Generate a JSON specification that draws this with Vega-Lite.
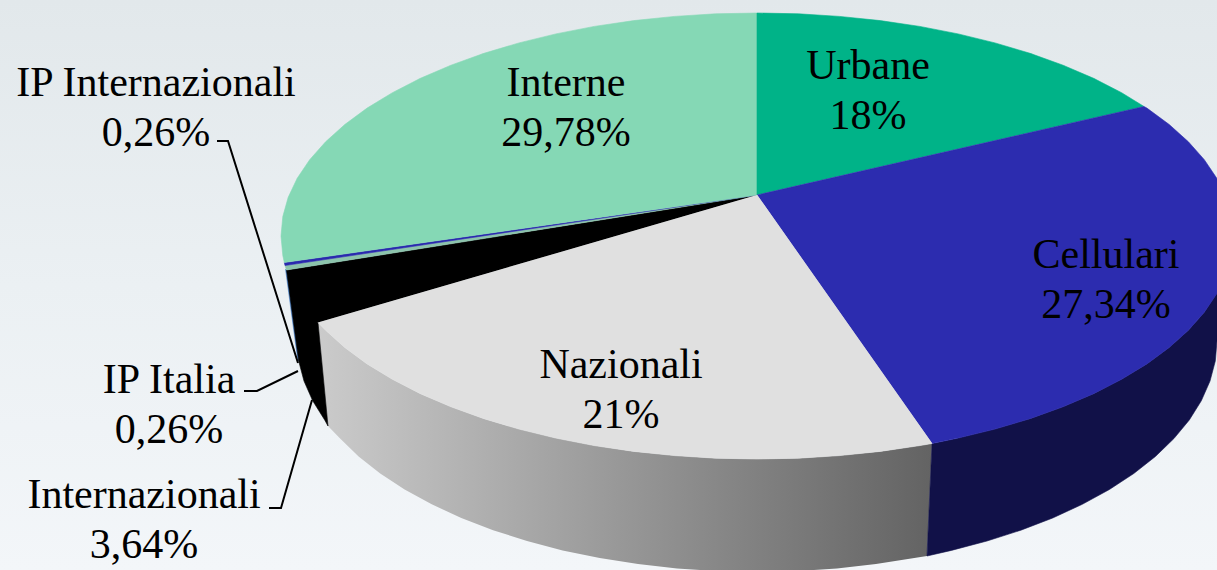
{"$schema":"https://vega.github.io/schema/vega-lite/v6.json","width":1217,"height":570,"autosize":{"type":"none"},"padding":0,"background":"#eaeff2","view":{"stroke":null,"fill":{"gradient":"linear","x1":0,"y1":0,"x2":0,"y2":1,"stops":[{"offset":0,"color":"#e2e8eb"},{"offset":0.5,"color":"#ebf0f3"},{"offset":1,"color":"#f3f6f9"}]}},
"datasets":{
"gradientSide":[
{"x":932,"y":443.5},{"x":919.8,"y":445.6},{"x":880.2,"y":451.4},{"x":839.6,"y":455.6},{"x":798.5,"y":458.2},{"x":757,"y":459},{"x":715.5,"y":458.2},{"x":674.4,"y":455.6},{"x":633.8,"y":451.4},{"x":594.2,"y":445.6},{"x":555.8,"y":438.1},{"x":519,"y":429.1},{"x":484,"y":418.7},{"x":451,"y":406.8},{"x":420.4,"y":393.7},{"x":392.4,"y":379.3},{"x":367.1,"y":363.9},{"x":344.8,"y":347.5},{"x":325.6,"y":330.2},{"x":318,"y":322.5},{"x":328,"y":426},{"x":340.1,"y":438.6},{"x":358.6,"y":456.5},{"x":380.2,"y":473.5},{"x":404.6,"y":489.5},{"x":431.7,"y":504.3},{"x":461.3,"y":518},{"x":493.1,"y":530.2},{"x":527,"y":541},{"x":562.6,"y":550.4},{"x":599.7,"y":558.1},{"x":638,"y":564.1},{"x":677.1,"y":568.5},{"x":716.9,"y":571.1},{"x":757,"y":572},{"x":797.1,"y":571.1},{"x":836.9,"y":568.5},{"x":876,"y":564.1},{"x":914.3,"y":558.1},{"x":927,"y":556}
],
"slices":[
{"part":"Cellulari side","x":932,"y":443.5},{"part":"Cellulari side","x":927,"y":556},{"part":"Cellulari side","x":951.4,"y":550.4},{"part":"Cellulari side","x":987,"y":541},{"part":"Cellulari side","x":1020.9,"y":530.2},{"part":"Cellulari side","x":1052.7,"y":518},{"part":"Cellulari side","x":1082.3,"y":504.3},{"part":"Cellulari side","x":1109.4,"y":489.5},{"part":"Cellulari side","x":1133.8,"y":473.5},{"part":"Cellulari side","x":1155.4,"y":456.5},{"part":"Cellulari side","x":1173.9,"y":438.6},{"part":"Cellulari side","x":1189.3,"y":420},{"part":"Cellulari side","x":1201.3,"y":400.8},{"part":"Cellulari side","x":1210,"y":381.1},{"part":"Cellulari side","x":1215.3,"y":361.1},{"part":"Cellulari side","x":1217,"y":341},{"part":"Cellulari side","x":1217,"y":293},{"part":"Cellulari side","x":1204.3,"y":312.3},{"part":"Cellulari side","x":1188.4,"y":330.2},{"part":"Cellulari side","x":1169.2,"y":347.5},{"part":"Cellulari side","x":1146.9,"y":363.9},{"part":"Cellulari side","x":1121.6,"y":379.3},{"part":"Cellulari side","x":1093.6,"y":393.7},{"part":"Cellulari side","x":1063,"y":406.8},{"part":"Cellulari side","x":1030,"y":418.7},{"part":"Cellulari side","x":995,"y":429.1},{"part":"Cellulari side","x":958.2,"y":438.1},
{"part":"IP edge","x":285.5,"y":269},{"part":"IP edge","x":297.5,"y":358},{"part":"IP edge","x":298.7,"y":361},{"part":"IP edge","x":287,"y":270},
{"part":"Internazionali","x":757,"y":195},{"part":"Internazionali","x":318,"y":322.5},{"part":"Internazionali","x":328,"y":426},{"part":"Internazionali","x":324.7,"y":420},{"part":"Internazionali","x":312.7,"y":400.8},{"part":"Internazionali","x":304,"y":381.1},{"part":"Internazionali","x":298.7,"y":361.1},{"part":"Internazionali","x":286.5,"y":270},
{"part":"IP Italia","x":757,"y":195},{"part":"IP Italia","x":286.5,"y":270},{"part":"IP Italia","x":285,"y":265.5},
{"part":"IP Internazionali","x":757,"y":195},{"part":"IP Internazionali","x":285,"y":265.5},{"part":"IP Internazionali","x":284.3,"y":262.5},
{"part":"Interne","x":757,"y":195},{"part":"Interne","x":284.3,"y":262.5},{"part":"Interne","x":282.8,"y":255.4},{"part":"Interne","x":281,"y":236},{"part":"Interne","x":282.8,"y":216.6},{"part":"Interne","x":288.2,"y":197.3},{"part":"Interne","x":297.2,"y":178.3},{"part":"Interne","x":309.7,"y":159.7},{"part":"Interne","x":325.6,"y":141.8},{"part":"Interne","x":344.8,"y":124.5},{"part":"Interne","x":367.1,"y":108.1},{"part":"Interne","x":392.4,"y":92.7},{"part":"Interne","x":420.4,"y":78.3},{"part":"Interne","x":451,"y":65.2},{"part":"Interne","x":484,"y":53.3},{"part":"Interne","x":519,"y":42.9},{"part":"Interne","x":555.8,"y":33.9},{"part":"Interne","x":594.2,"y":26.4},{"part":"Interne","x":633.8,"y":20.6},{"part":"Interne","x":674.4,"y":16.4},{"part":"Interne","x":715.5,"y":13.8},{"part":"Interne","x":757,"y":13},
{"part":"Urbane","x":757,"y":195},{"part":"Urbane","x":757,"y":13},{"part":"Urbane","x":798.5,"y":13.8},{"part":"Urbane","x":839.6,"y":16.4},{"part":"Urbane","x":880.2,"y":20.6},{"part":"Urbane","x":919.8,"y":26.4},{"part":"Urbane","x":958.2,"y":33.9},{"part":"Urbane","x":995,"y":42.9},{"part":"Urbane","x":1030,"y":53.3},{"part":"Urbane","x":1063,"y":65.2},{"part":"Urbane","x":1093.6,"y":78.3},{"part":"Urbane","x":1121.6,"y":92.7},{"part":"Urbane","x":1144,"y":106.5},
{"part":"Cellulari","x":757,"y":195},{"part":"Cellulari","x":1144,"y":106.5},{"part":"Cellulari","x":1146.9,"y":108.1},{"part":"Cellulari","x":1169.2,"y":124.5},{"part":"Cellulari","x":1188.4,"y":141.8},{"part":"Cellulari","x":1204.3,"y":159.7},{"part":"Cellulari","x":1216.8,"y":178.3},{"part":"Cellulari","x":1225.8,"y":197.3},{"part":"Cellulari","x":1231.2,"y":216.6},{"part":"Cellulari","x":1233,"y":236},{"part":"Cellulari","x":1231.2,"y":255.4},{"part":"Cellulari","x":1225.8,"y":274.7},{"part":"Cellulari","x":1216.8,"y":293.7},{"part":"Cellulari","x":1204.3,"y":312.3},{"part":"Cellulari","x":1188.4,"y":330.2},{"part":"Cellulari","x":1169.2,"y":347.5},{"part":"Cellulari","x":1146.9,"y":363.9},{"part":"Cellulari","x":1121.6,"y":379.3},{"part":"Cellulari","x":1093.6,"y":393.7},{"part":"Cellulari","x":1063,"y":406.8},{"part":"Cellulari","x":1030,"y":418.7},{"part":"Cellulari","x":995,"y":429.1},{"part":"Cellulari","x":958.2,"y":438.1},{"part":"Cellulari","x":932,"y":443.5},
{"part":"Nazionali","x":757,"y":195},{"part":"Nazionali","x":932,"y":443.5},{"part":"Nazionali","x":919.8,"y":445.6},{"part":"Nazionali","x":880.2,"y":451.4},{"part":"Nazionali","x":839.6,"y":455.6},{"part":"Nazionali","x":798.5,"y":458.2},{"part":"Nazionali","x":757,"y":459},{"part":"Nazionali","x":715.5,"y":458.2},{"part":"Nazionali","x":674.4,"y":455.6},{"part":"Nazionali","x":633.8,"y":451.4},{"part":"Nazionali","x":594.2,"y":445.6},{"part":"Nazionali","x":555.8,"y":438.1},{"part":"Nazionali","x":519,"y":429.1},{"part":"Nazionali","x":484,"y":418.7},{"part":"Nazionali","x":451,"y":406.8},{"part":"Nazionali","x":420.4,"y":393.7},{"part":"Nazionali","x":392.4,"y":379.3},{"part":"Nazionali","x":367.1,"y":363.9},{"part":"Nazionali","x":344.8,"y":347.5},{"part":"Nazionali","x":325.6,"y":330.2},{"part":"Nazionali","x":318,"y":322.5}
],
"leaders":[
{"name":"IP Internazionali","x":217,"y":141},{"name":"IP Internazionali","x":228,"y":141},{"name":"IP Internazionali","x":298,"y":363},
{"name":"IP Italia","x":244,"y":391},{"name":"IP Italia","x":257,"y":391},{"name":"IP Italia","x":298,"y":371},
{"name":"Internazionali","x":269,"y":508},{"name":"Internazionali","x":281,"y":508},{"name":"Internazionali","x":312,"y":400}
],
"labels":[
{"label":"Urbane\n18%","x":868,"y":66},
{"label":"Interne\n29,78%","x":566,"y":83},
{"label":"Cellulari\n27,34%","x":1106,"y":255},
{"label":"Nazionali\n21%","x":621,"y":365},
{"label":"IP Internazionali\n0,26%","x":156,"y":83},
{"label":"IP Italia\n0,26%","x":169,"y":380},
{"label":"Internazionali\n3,64%","x":144,"y":495}
]},
"encoding":{
"x":{"field":"x","type":"quantitative","axis":null,"scale":{"domain":[0,1217],"nice":false,"zero":false}},
"y":{"field":"y","type":"quantitative","axis":null,"scale":{"domain":[570,0],"nice":false,"zero":false}}
},
"layer":[
{"data":{"name":"gradientSide"},"mark":{"type":"line","clip":true,"strokeWidth":0,"fill":{"gradient":"linear","x1":0,"y1":0,"x2":1,"y2":0,"stops":[{"offset":0,"color":"#cbcbcb"},{"offset":1,"color":"#636363"}]}},"encoding":{"order":{"value":null}}},
{"data":{"name":"slices"},"mark":{"type":"line","clip":true,"strokeWidth":0.6},"encoding":{"order":{"value":null},
"fill":{"field":"part","type":"nominal","legend":null,"scale":{"domain":["Cellulari side","IP edge","Internazionali","IP Italia","IP Internazionali","Interne","Urbane","Cellulari","Nazionali"],"range":["#111148","#4a7fc4","#000000","#8cc4ac","#2a2aae","#85d8b5","#00b388","#2c2caf","#e0e0e0"]}},
"stroke":{"field":"part","type":"nominal","legend":null,"scale":{"domain":["Cellulari side","IP edge","Internazionali","IP Italia","IP Internazionali","Interne","Urbane","Cellulari","Nazionali"],"range":["#111148","#4a7fc4","#000000","#8cc4ac","#2a2aae","#85d8b5","#00b388","#2c2caf","#e0e0e0"]}}}},
{"data":{"name":"leaders"},"mark":{"type":"line","color":"#000000","strokeWidth":2},"encoding":{"order":{"value":null},"detail":{"field":"name"}}},
{"data":{"name":"labels"},"mark":{"type":"text","font":"Liberation Serif","fontSize":42,"lineBreak":"\n","lineHeight":50,"align":"center","baseline":"middle","color":"#000000"},"encoding":{"text":{"field":"label"}}}
]}
